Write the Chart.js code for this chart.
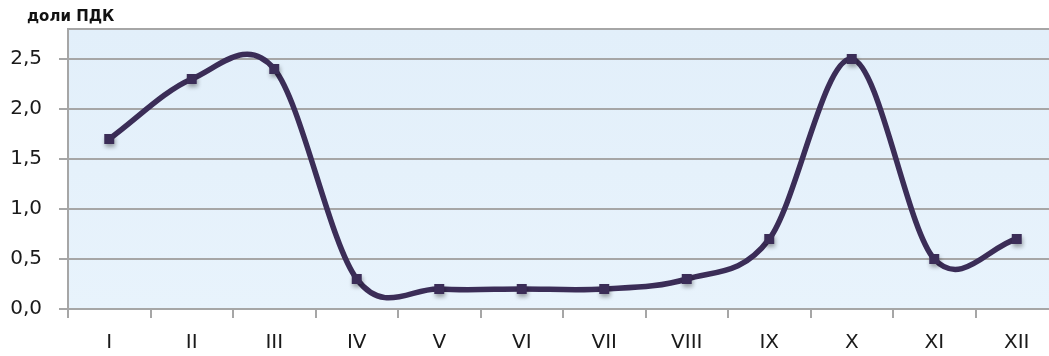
<!DOCTYPE html>
<html>
<head>
<meta charset="utf-8">
<script src="https://cdn.jsdelivr.net/npm/chart.js@4/dist/chart.umd.min.js"></script>
<style>
  html, body { margin: 0; padding: 0; background: #ffffff; overflow: hidden; }
  #wrap { position: relative; width: 1058px; height: 356px; }
  #chart { display: block; }
</style>
</head>
<body>
<div id="wrap"><canvas id="chart" width="1058" height="356"></canvas></div>
<script>
// Monthly concentrations, in fractions of the maximum permissible level (ПДК)
const months = ['I', 'II', 'III', 'IV', 'V', 'VI', 'VII', 'VIII', 'IX', 'X', 'XI', 'XII'];
const values = [1.7, 2.3, 2.4, 0.3, 0.2, 0.2, 0.2, 0.3, 0.7, 2.5, 0.5, 0.7];
const yTicks = [0, 0.5, 1.0, 1.5, 2.0, 2.5];
const unitLabel = 'доли ПДК';

const AXIS_GREY = '#a6a6a6';
const LINE_COLOR = '#3b2d57';

// Square marker with a soft drop shadow, used as the point style
function makeMarker(side) {
  const c = document.createElement('canvas');
  const size = side + 16;
  c.width = size; c.height = size;
  const g = c.getContext('2d');
  g.shadowColor = 'rgba(0,0,0,0.35)';
  g.shadowBlur = 4;
  g.shadowOffsetX = 1;
  g.shadowOffsetY = 3;
  g.fillStyle = LINE_COLOR;
  const o = (size - side) / 2;
  g.fillRect(o, o, side, side);
  return c;
}

// Pale blue plot background with a grey frame line on top
const plotBackground = {
  id: 'plotBackground',
  beforeDraw(chart) {
    const { ctx, chartArea: a } = chart;
    ctx.save();
    const g = ctx.createLinearGradient(0, a.top, 0, a.bottom);
    g.addColorStop(0, '#e2effa');
    g.addColorStop(1, '#e8f3fc');
    ctx.fillStyle = g;
    ctx.fillRect(a.left, a.top, a.right - a.left, a.bottom - a.top);
    ctx.strokeStyle = AXIS_GREY;
    ctx.lineWidth = 2;
    ctx.beginPath();
    ctx.moveTo(a.left, a.top);
    ctx.lineTo(a.right, a.top);
    ctx.stroke();
    ctx.restore();
  }
};

// Uniform Catmull-Rom smoothing: handles are 1/6 of the chord between neighbours
const uniformSpline = {
  id: 'uniformSpline',
  beforeDatasetsDraw(chart) {
    chart.getSortedVisibleDatasetMetas().forEach(meta => {
      const line = meta.dataset;
      if (!line) return;
      line.updateControlPoints(chart.chartArea, meta.indexAxis);
      const pts = meta.data;
      const n = pts.length;
      for (let i = 0; i < n; i++) {
        const cur = pts[i];
        const prev = pts[i - 1] || cur;
        const next = pts[i + 1] || cur;
        const k = (i === 0 || i === n - 1) ? 1 / 3 : 1 / 6;
        const dx = (next.x - prev.x) * k;
        const dy = (next.y - prev.y) * k;
        cur.cp1x = cur.x - dx; cur.cp1y = cur.y - dy;
        cur.cp2x = cur.x + dx; cur.cp2y = cur.y + dy;
      }
      line._path = undefined;
    });
  }
};

// Unit caption above the value axis
const unitCaption = {
  id: 'unitCaption',
  afterDraw(chart) {
    const { ctx } = chart;
    ctx.save();
    ctx.font = 'bold 15px "DejaVu Sans", sans-serif';
    ctx.fillStyle = '#111111';
    ctx.textAlign = 'left';
    ctx.textBaseline = 'middle';
    ctx.fillText(unitLabel, 27, 17);
    ctx.restore();
  }
};

new Chart(document.getElementById('chart'), {
  type: 'line',
  data: {
    labels: months,
    datasets: [{
      data: values,
      borderColor: LINE_COLOR,
      borderWidth: 5.5,
      tension: 0.4,
      cubicInterpolationMode: 'default',
      pointStyle: makeMarker(10),
      pointRadius: 6,
      pointBackgroundColor: LINE_COLOR,
      pointBorderWidth: 0,
      clip: false
    }]
  },
  options: {
    responsive: false,
    maintainAspectRatio: false,
    devicePixelRatio: 1,
    animation: false,
    events: [],
    layout: { autoPadding: false, padding: { top: 29, left: 0, right: 0, bottom: 0 } },
    plugins: {
      legend: { display: false },
      tooltip: { enabled: false }
    },
    scales: {
      x: {
        type: 'category',
        offset: true,
        grid: {
          offset: true,
          drawOnChartArea: false,
          drawTicks: true,
          tickLength: 9,
          color: AXIS_GREY,
          lineWidth: 2
        },
        border: { display: true, color: AXIS_GREY, width: 2 },
        ticks: {
          color: '#1a1a1a',
          font: { family: '"DejaVu Sans", sans-serif', size: 20 },
          padding: 13,
          maxRotation: 0,
          autoSkip: false
        },
        afterFit(scale) { scale.height = 47; }
      },
      y: {
        min: 0,
        max: 2.8,
        ticks: {
          stepSize: 0.5,
          color: '#1a1a1a',
          font: { family: '"DejaVu Sans", sans-serif', size: 20 },
          padding: 17,
          callback: (v) => Number(v).toFixed(1).replace('.', ',')
        },
        afterBuildTicks(scale) {
          scale.ticks = yTicks.map(v => ({ value: v }));
        },
        grid: {
          color: AXIS_GREY,
          lineWidth: 2,
          tickLength: 9,
          drawTicks: true
        },
        border: { display: true, color: AXIS_GREY, width: 2 },
        afterFit(scale) { scale.width = 68; }
      }
    }
  },
  plugins: [plotBackground, uniformSpline, unitCaption]
});
</script>
</body>
</html>
